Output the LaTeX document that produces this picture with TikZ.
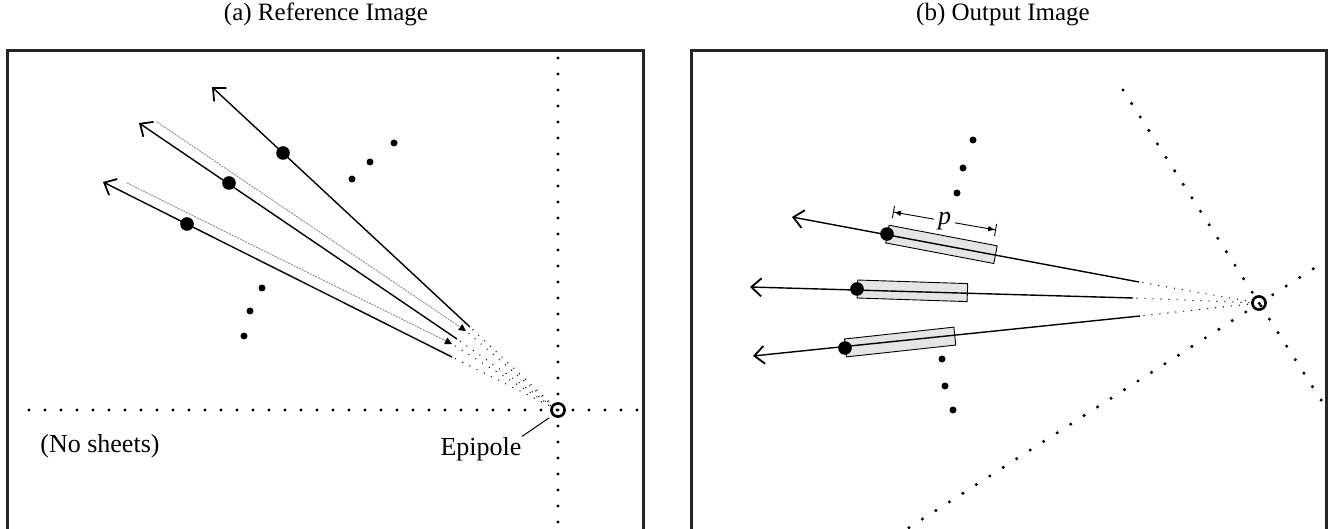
\documentclass[tikz,border=0pt]{standalone}
\usepackage{fontspec}
\setmainfont{Liberation Serif}
\usetikzlibrary{arrows.meta,calc}

\tikzset{
  frame/.style={line width=1.5pt, black!85},
  bigdots/.style={line width=1.7pt, line cap=round, dash pattern=on 0pt off 8pt},
  smalldots/.style={line width=0.7pt, line cap=round, dash pattern=on 0pt off 4pt, dash phase=2pt},
  ray/.style={line width=0.7pt, -{Straight Barb[length=5pt,width=9pt,line width=0.9pt]}},
  guide/.style={black!45, line width=0.45pt, dash pattern=on 1pt off 0.5pt, -{Triangle[length=3.5pt,width=3.5pt,black]}},
  blob/.style={circle, fill=black, inner sep=0pt, minimum size=6.8pt},
  speck/.style={circle, fill=black, inner sep=0pt, minimum size=3.5pt},
  epipole/.style={circle, draw, line width=1.3pt, inner sep=0pt, minimum size=6.6pt},
  sheet/.style={draw, fill=black!10, line width=0.45pt, minimum width=55pt, minimum height=9pt, inner sep=0pt},
  lbl/.style={font=\fontsize{13pt}{15pt}\selectfont, inner sep=0pt},
  title/.style={font=\fontsize{12.5pt}{15pt}\selectfont, inner sep=0pt}
}

\begin{document}
\begin{tikzpicture}[x=0.5pt,y=-0.5pt]
\useasboundingbox (0,0) rectangle (1328,529);

% headings
\node[title, anchor=base] (titleA) at (326,21) {(a) Reference Image};
\node[title, anchor=base] (titleB) at (1003,21) {(b) Output Image};

% frames, open at the bottom
\draw[frame] (7,535) |- (643,51) -- (643,535);
\draw[frame] (691,535) |- (1326,51) -- (1326,535);

%%% left: reference image
\node[epipole] (epiL) at (558,410) {};
\coordinate (vTop) at (558,58);
\coordinate (vBot) at (558,535);
\coordinate (hLeft) at (29,410);
\coordinate (hRight) at (640,410);
\draw[bigdots] (vTop) -- (vBot);
\draw[bigdots] (hLeft) -- (hRight);

\node[lbl, anchor=base west] (nosheets) at (40,452) {(No sheets)};
\node[lbl, anchor=base] (lblEpi) at (481,455) {Epipole};
\draw[line width=0.5pt, shorten >=2pt] (lblEpi.north east) -- (epiL.south west);

% rays and their points
\coordinate (tipL1) at (212,87);
\coordinate (tipL2) at (139,123);
\coordinate (tipL3) at (103,182);
\coordinate (endL1) at (470,327);
\coordinate (endL2) at (457,339);
\coordinate (endL3) at (452,357);
\coordinate (gA) at (157,122);
\coordinate (gAend) at (466,331);
\coordinate (gB) at (127,183);
\coordinate (gBend) at (452,344);

\draw[guide] (gA) -- (gAend);
\draw[guide] (gB) -- (gBend);
\draw[ray] (endL1) -- (tipL1);
\draw[ray] (endL2) -- (tipL2);
\draw[ray] (endL3) -- (tipL3);
\foreach \e in {endL1,endL2,endL3,gAend,gBend}
  \draw[smalldots] (\e) -- (epiL);

\node[blob] (ptL1) at (283,153) {};
\node[blob] (ptL2) at (229,183) {};
\node[blob] (ptL3) at (187,224) {};

\node[speck] (sL1) at (352,179) {};
\node[speck] (sL2) at (370,162) {};
\node[speck] (sL3) at (394,143) {};
\node[speck] (sL4) at (262,288) {};
\node[speck] (sL5) at (250,311) {};
\node[speck] (sL6) at (244,336) {};

%%% right: output image
\node[epipole] (epiR) at (1259,303) {};
\coordinate (aTop) at (1123,90);
\coordinate (aBot) at (1323,403);
\coordinate (bLow) at (882,545);
\coordinate (bHigh) at (1316,267);
\draw[bigdots] (aTop) -- (aBot);
\draw[bigdots] (bLow) -- (bHigh);

\coordinate (tipR1) at (792,217);
\coordinate (tipR2) at (750,287);
\coordinate (tipR3) at (753,356);
\coordinate (endR1) at (1139,282);
\coordinate (endR2) at (1133,298);
\coordinate (endR3) at (1140,316);
\coordinate (ptR1) at (887,234);
\coordinate (ptR2) at (857,289);
\coordinate (ptR3) at (845,348);

% sheets lie along each ray, starting at the point
\foreach \i in {1,2,3}
  \path (ptR\i) -- (endR\i) node[sheet, pos=0, sloped, anchor=west] (sheet\i) {};

\draw[ray] (endR1) -- (tipR1);
\draw[ray] (endR2) -- (tipR2);
\draw[ray] (endR3) -- (tipR3);
\foreach \e in {endR1,endR2,endR3}
  \draw[smalldots] (\e) -- (epiR);

\node[blob] at (ptR1) {};
\node[blob] at (ptR2) {};
\node[blob] at (ptR3) {};

% sheet length
\coordinate (pA) at (893,212);
\coordinate (pB) at (996,230);
\draw[line width=0.45pt, {Bar[width=6pt]Latex[length=3.5pt,width=2.8pt]}-{Latex[length=3.5pt,width=2.8pt]Bar[width=6pt]}]
  (pA) -- node[lbl, fill=white, inner xsep=2pt] (lblP) {\textit{p}} (pB);

\node[speck] (sR1) at (973,140) {};
\node[speck] (sR2) at (963,168) {};
\node[speck] (sR3) at (957,193) {};
\node[speck] (sR4) at (942,359) {};
\node[speck] (sR5) at (945,386) {};
\node[speck] (sR6) at (953,410) {};

\end{tikzpicture}
\end{document}
